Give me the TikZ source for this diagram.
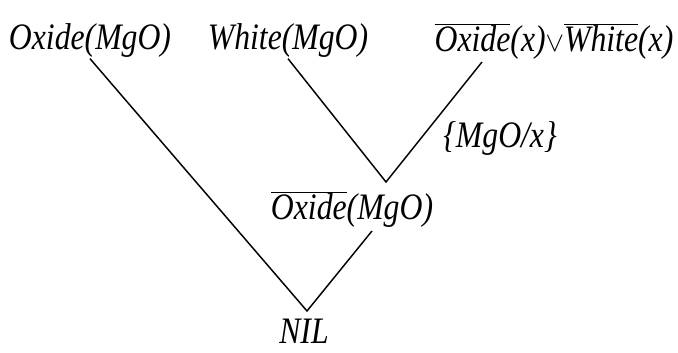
\documentclass[tikz,border=0pt]{standalone}
\usepackage{fontspec}
\setmainfont{Liberation Serif}[FakeStretch=0.85]
\newcommand{\ovl}[1]{$\overline{\mbox{#1}}$}

\begin{document}
\begin{tikzpicture}[x=0.75pt, y=0.75pt, line width=1.1pt,
    every node/.style={font=\fontsize{28}{30}\selectfont\itshape, inner sep=0pt, anchor=base}]
  \useasboundingbox (0,0) rectangle (678,353);
  \node (ox)  at (90,303)  {Oxide(MgO)};
  \node (wh)  at (288,303) {White(MgO)};
  \node (cl)  at (554,301) {\ovl{Oxide}(x)$\scriptstyle\vee$\ovl{White}(x)};
  \node (sub) at (500,205) {\{MgO/x\}};
  \node (res) at (352,133) {\ovl{Oxide}(MgO)};
  \node (nil) at (304,9)   {NIL};
  \coordinate (top) at (386,171);
  \coordinate (bot) at (307,42);
  \coordinate (cs)  at (482,291);
  \coordinate (rs)  at (372,122);
  \draw (wh.south) -- (top) -- (cs);
  \draw (ox.south) -- (bot) -- (rs);
\end{tikzpicture}
\end{document}
